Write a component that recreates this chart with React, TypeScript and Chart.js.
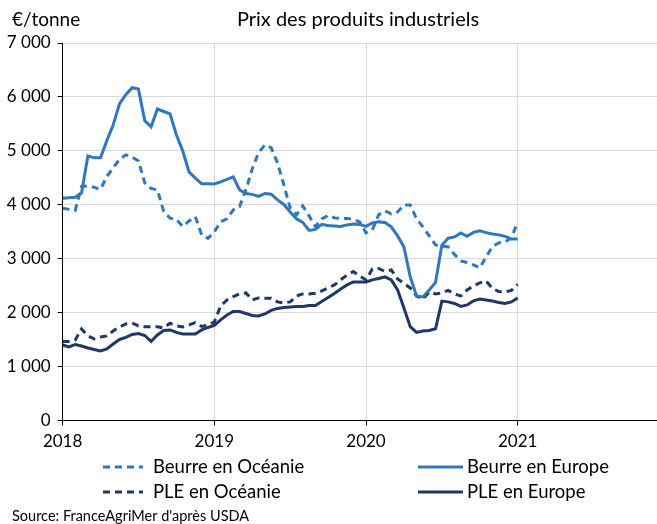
import React, { useEffect, useRef } from "react";
import { Chart, registerables } from "chart.js";

Chart.register(...registerables);

// Semi-monthly observations, January 2018 -> January 2021 (€/tonne)
const START_YEAR = 2018;
const PERIODS_PER_YEAR = 24;

const beurreOceanie = [
  3937, 3915, 3896, 4341, 4351, 4323, 4286, 4523, 4685, 4842, 4926, 4883, 4814, 4406, 4304, 4276,
  3874, 3751, 3729, 3599, 3700, 3780, 3442, 3377, 3497, 3683, 3738, 3905, 3967, 4276, 4666, 4963,
  5111, 5056, 4777, 4369, 3942, 3813, 3980, 3794, 3596, 3738, 3803, 3757, 3748, 3748, 3729, 3683,
  3479, 3534, 3813, 3887, 3831, 3868, 3998, 3998, 3738, 3590, 3423, 3256, 3237, 3219, 3080, 2959,
  2931, 2885, 2829, 3033, 3228, 3293, 3312, 3386, 3683,
];
const beurreEurope = [
  4122, 4130, 4141, 4221, 4907, 4870, 4870, 5190, 5480, 5870, 6040, 6170, 6145, 5560, 5445, 5775,
  5730, 5686, 5300, 5000, 4610, 4494, 4388, 4390, 4385, 4425, 4470, 4518, 4276, 4210, 4193, 4156,
  4210, 4197, 4090, 4007, 3868, 3738, 3673, 3525, 3543, 3636, 3617, 3608, 3596, 3627, 3645, 3636,
  3600, 3664, 3683, 3673, 3590, 3423, 3219, 2662, 2310, 2291, 2420, 2560, 3250, 3380, 3404, 3479,
  3417, 3488, 3516, 3484, 3460, 3442, 3414, 3367, 3367,
];
const pleOceanie = [
  1466, 1466, 1494, 1698, 1568, 1512, 1549, 1568, 1660, 1735, 1790, 1809, 1753, 1740, 1740, 1740,
  1716, 1803, 1753, 1735, 1772, 1814, 1744, 1772, 1827, 2124, 2236, 2297, 2347, 2366, 2236, 2273,
  2267, 2267, 2199, 2180, 2199, 2310, 2347, 2347, 2360, 2403, 2458, 2514, 2607, 2699, 2761, 2681,
  2607, 2811, 2820, 2764, 2792, 2625, 2542, 2458, 2310, 2254, 2384, 2347, 2366, 2412, 2347, 2310,
  2421, 2495, 2551, 2588, 2449, 2393, 2384, 2412, 2523,
];
const pleEurope = [
  1401, 1364, 1410, 1382, 1345, 1317, 1289, 1327, 1419, 1503, 1540, 1596, 1614, 1577, 1466, 1586,
  1670, 1679, 1633, 1605, 1605, 1605, 1679, 1725, 1763, 1865, 1957, 2022, 2022, 1985, 1948, 1939,
  1976, 2041, 2078, 2096, 2106, 2115, 2115, 2134, 2134, 2208, 2282, 2356, 2440, 2514, 2570, 2570,
  2570, 2607, 2634, 2662, 2607, 2421, 2087, 1740, 1633, 1660, 1670, 1700, 2215, 2200, 2170, 2115,
  2143, 2217, 2254, 2236, 2217, 2189, 2171, 2199, 2273,
];

const seriesNames = ["Beurre en Océanie", "Beurre en Europe", "PLE en Océanie", "PLE en Europe"];
const yearTicks = [2018, 2019, 2020, 2021];
const yTicks = [0, 1000, 2000, 3000, 4000, 5000, 6000, 7000];
const TITLE = "Prix des produits industriels";
const UNIT = "€/tonne";
const SOURCE = "Source: FranceAgriMer d'après USDA";

const LIGHT_BLUE = "#2E78BE";
const DARK_BLUE = "#1F3864";
const FONT = "Lato, 'Open Sans', sans-serif";

const toPoints = (arr: number[]) =>
  arr.map((v, i) => ({ x: START_YEAR + i / PERIODS_PER_YEAR, y: v }));

const legendSlots = [
  { x: 103, y: 467 },
  { x: 418, y: 467 },
  { x: 103, y: 492 },
  { x: 418, y: 492 },
];

const textPlugin = {
  id: "customTexts",
  afterDraw(chart: any) {
    const ctx = chart.ctx as CanvasRenderingContext2D;
    ctx.save();
    ctx.fillStyle = "#000";
    ctx.textBaseline = "middle";
    ctx.font = `20px ${FONT}`;
    ctx.textAlign = "center";
    ctx.fillText(TITLE, 358, 20);
    ctx.textAlign = "left";
    ctx.font = `19px ${FONT}`;
    ctx.fillText(UNIT, 12, 20);

    chart.data.datasets.forEach((ds: any, k: number) => {
      const slot = legendSlots[k];
      const len = k % 2 === 0 ? 40 : 45;
      ctx.save();
      ctx.strokeStyle = ds.borderColor;
      ctx.lineWidth = 3;
      ctx.setLineDash(ds.borderDash || []);
      ctx.beginPath();
      ctx.moveTo(slot.x, slot.y);
      ctx.lineTo(slot.x + len, slot.y);
      ctx.stroke();
      ctx.restore();
      ctx.fillStyle = "#000";
      ctx.font = `18.5px ${FONT}`;
      ctx.fillText(ds.label, slot.x + len + (k % 2 === 0 ? 10 : 4), slot.y);
    });

    ctx.font = `14.5px ${FONT}`;
    ctx.fillText(SOURCE, 12, 516);
    ctx.restore();
  },
};

export default function App() {
  const ref = useRef<HTMLCanvasElement | null>(null);

  useEffect(() => {
    if (!ref.current) return;
    const chart = new Chart(ref.current, {
      type: "line",
      data: {
        datasets: [
          {
            label: seriesNames[0],
            data: toPoints(beurreOceanie),
            borderColor: LIGHT_BLUE,
            borderDash: [7, 5],
            borderWidth: 3,
            pointRadius: 0,
            tension: 0,
          },
          {
            label: seriesNames[1],
            data: toPoints(beurreEurope),
            borderColor: LIGHT_BLUE,
            borderWidth: 3,
            pointRadius: 0,
            tension: 0,
          },
          {
            label: seriesNames[2],
            data: toPoints(pleOceanie),
            borderColor: DARK_BLUE,
            borderDash: [7, 5],
            borderWidth: 3,
            pointRadius: 0,
            tension: 0,
          },
          {
            label: seriesNames[3],
            data: toPoints(pleEurope),
            borderColor: DARK_BLUE,
            borderWidth: 3,
            pointRadius: 0,
            tension: 0,
          },
        ],
      },
      options: {
        responsive: false,
        animation: false,
        layout: { padding: { top: 43, left: 0, right: 0, bottom: 0 } },
        plugins: {
          legend: { display: false },
          title: { display: false },
          tooltip: { enabled: false },
        },
        scales: {
          x: {
            type: "linear",
            min: 2018,
            max: 2018 + (657 - 62.6) / 151.7,
            afterFit: (scale: any) => {
              scale.height = 524 - 420.5;
            },
            afterBuildTicks: (scale: any) => {
              scale.ticks = yearTicks.map((v) => ({ value: v }));
            },
            ticks: {
              color: "#000",
              font: { family: FONT, size: 17 },
              padding: 6,
              maxRotation: 0,
              autoSkip: false,
              callback: (v: any) => String(v),
            },
            grid: {
              color: (c: any) => (c.tick && c.tick.value === 2018 ? "rgba(0,0,0,0)" : "#D9D9D9"),
              tickColor: "#000",
              tickLength: 5,
              lineWidth: 1,
            },
            border: { display: true, color: "#000", width: 1 },
          },
          y: {
            min: 0,
            max: 7000,
            afterFit: (scale: any) => {
              scale.width = 62.6;
            },
            afterBuildTicks: (scale: any) => {
              scale.ticks = yTicks.map((v) => ({ value: v }));
            },
            ticks: {
              color: "#000",
              font: { family: FONT, size: 17 },
              padding: 7,
              callback: (v: any) => (v === 0 ? "0" : `${v / 1000} 000`),
            },
            grid: {
              color: (c: any) => (c.tick && c.tick.value === 0 ? "rgba(0,0,0,0)" : "#D9D9D9"),
              tickColor: "#000",
              tickLength: 5,
              lineWidth: 1,
            },
            border: { display: true, color: "#000", width: 1 },
          },
        },
      },
      plugins: [textPlugin],
    });
    return () => chart.destroy();
  }, []);

  return (
    <div style={{ position: "absolute", left: 0, top: 0, width: 657, height: 524, background: "#fff" }}>
      <canvas ref={ref} width={657} height={524} />
    </div>
  );
}
